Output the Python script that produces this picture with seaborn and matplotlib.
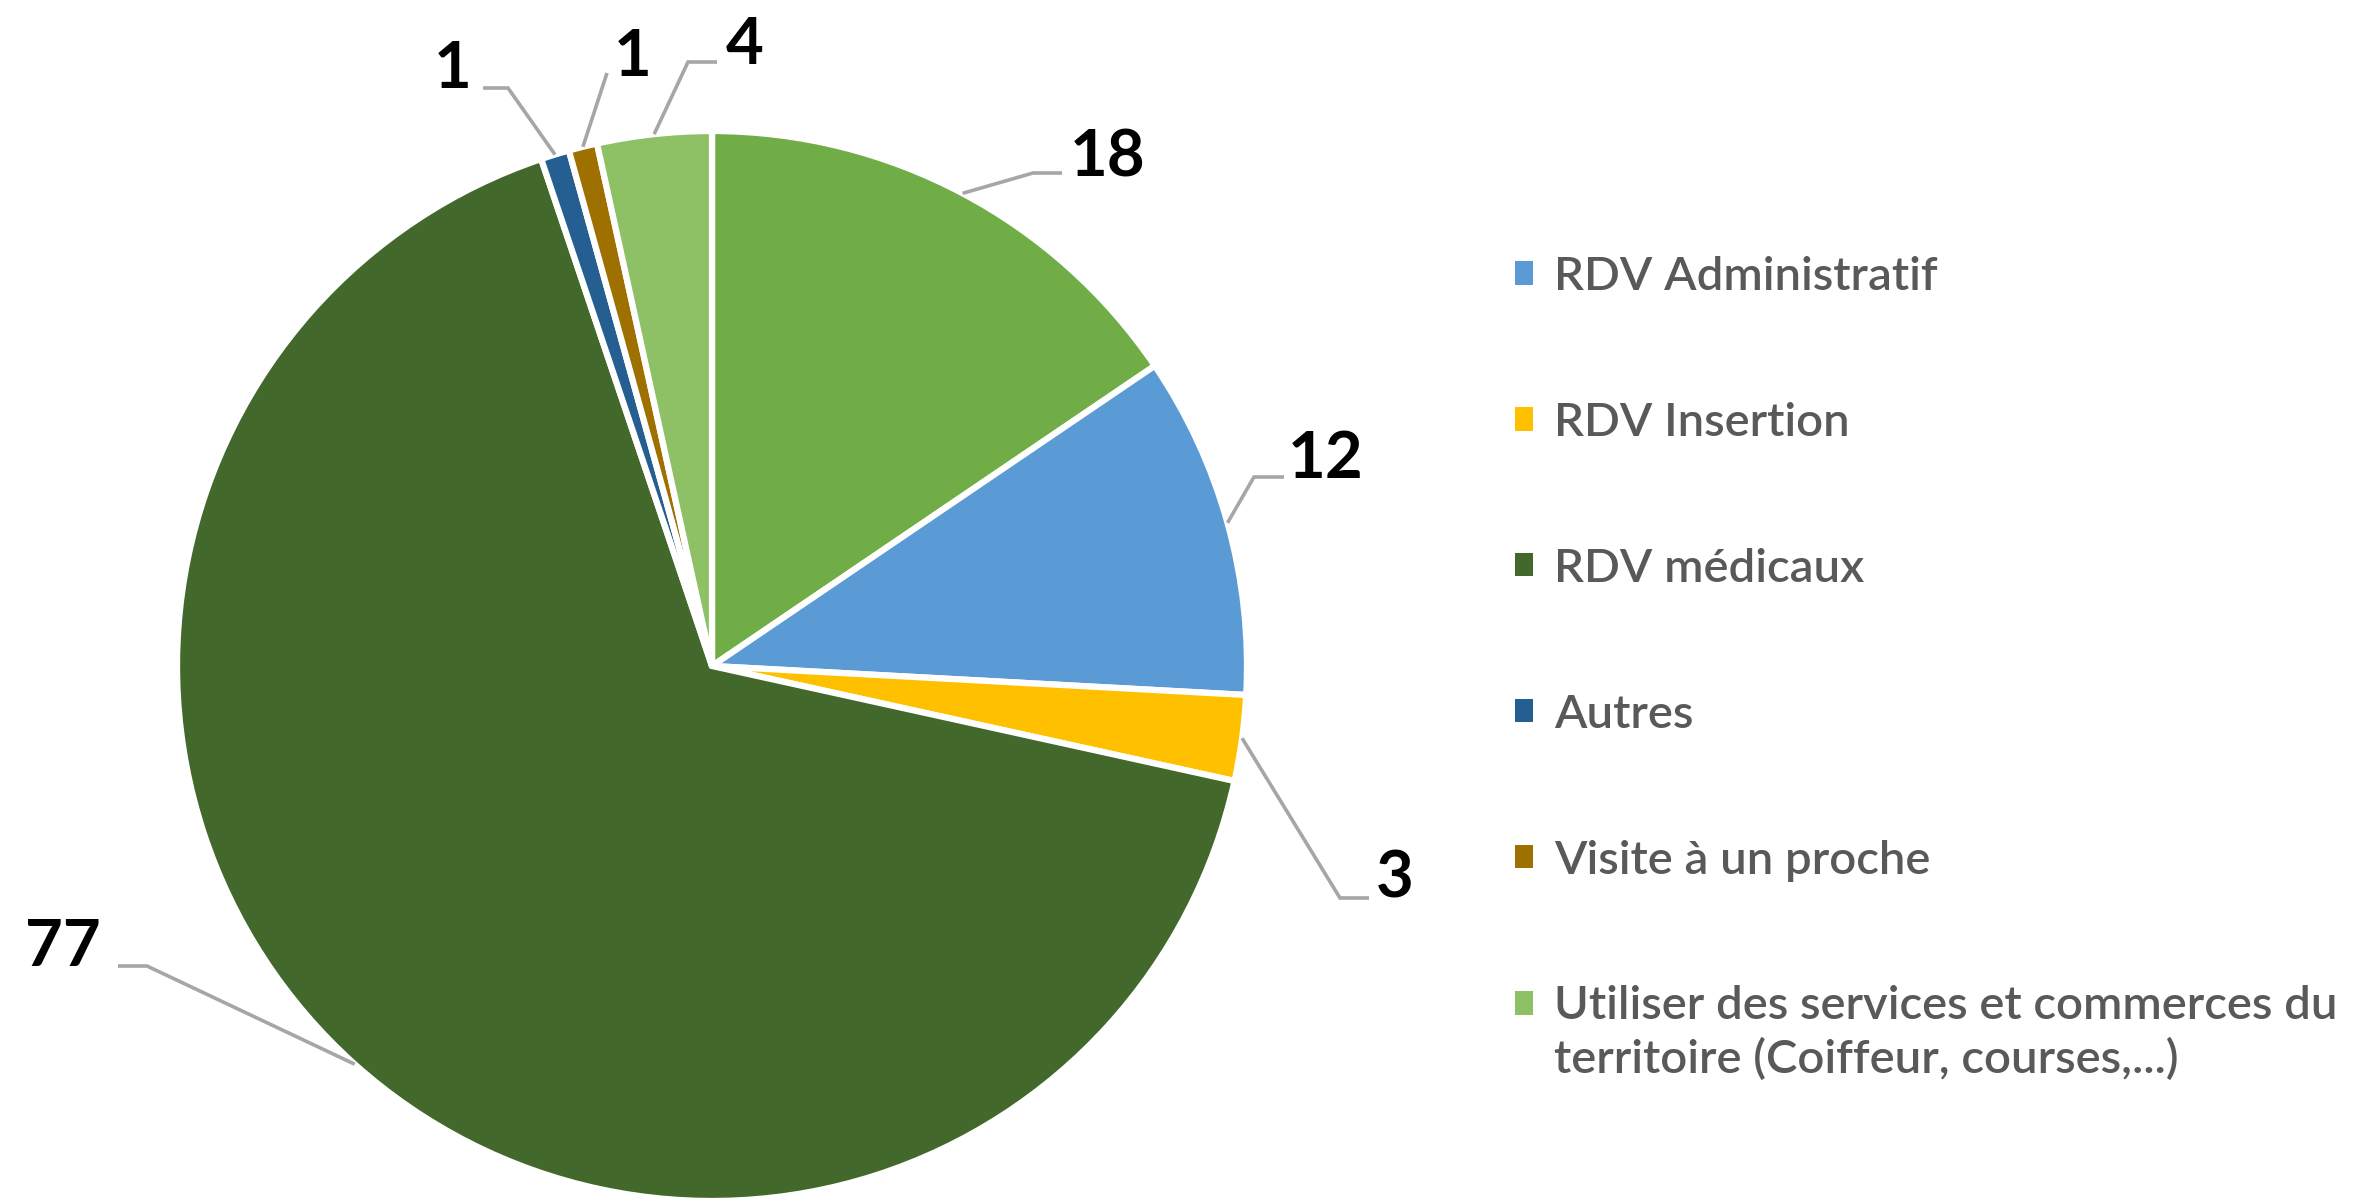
import matplotlib
matplotlib.use("Agg")
import matplotlib.pyplot as plt
from matplotlib.patches import Patch
import numpy as np
import seaborn as sns

# données (sens horaire depuis le haut)
categories = ["", "RDV Administratif", "RDV Insertion", "RDV médicaux", "Autres",
              "Visite à un proche",
              "Utiliser des services et commerces du\nterritoire (Coiffeur, courses,...)"]
valeurs = [18, 12, 3, 77, 1, 1, 4]
couleurs = ["#70AD47", "#5B9BD5", "#FFC000", "#43682B", "#255E91", "#9E7000", "#8EC065"]
dans_legende = [False, True, True, True, True, True, True]

sns.set_theme(style="white")
plt.rcParams['font.family'] = ['Lato', 'DejaVu Sans']

W, H = 2374, 1204
CX, CY, R = 712, 666, 535  # centre et rayon du camembert en pixels


def px(x, y):
    # pixels (origine en haut à gauche) -> unités du camembert
    return (x - CX) / R, (CY - y) / R


# position du texte, coude et fin du trait (en pixels)
etiquettes = [
    dict(texte=(1108, 158), coude=(1033, 173), fin=(1062, 173)),
    dict(texte=(1326, 460), coude=(1254, 477), fin=(1284, 477)),
    dict(texte=(1395, 879), coude=(1340, 898), fin=(1369, 898)),
    dict(texte=(63, 948), coude=(147, 966), fin=(118, 966)),
    dict(texte=(453, 70), coude=(508, 88), fin=(483, 88)),
    dict(texte=(633, 57), coude=(607, 73), fin=(607, 73)),
    dict(texte=(745, 45), coude=(688, 62), fin=(717, 62)),
]

fig = plt.figure(figsize=(W / 100, H / 100), dpi=100)
ax = fig.add_axes([0, 0, 1, 1])

ax.pie(valeurs, colors=couleurs, startangle=90, counterclock=False, radius=1,
       wedgeprops=dict(edgecolor="white", linewidth=4.5))
ax.set_aspect("auto")
ax.set_xlim(-CX / R, (W - CX) / R)
ax.set_ylim(-(H - CY) / R, CY / R)
ax.axis("off")

total = sum(valeurs)
cumul = np.cumsum([0] + valeurs)
for i, v in enumerate(valeurs):
    milieu = np.deg2rad((cumul[i] + v / 2) / total * 360)
    bord = (np.sin(milieu), np.cos(milieu))
    e = etiquettes[i]
    cx, cy = px(*e["coude"])
    fx, fy = px(*e["fin"])
    ax.plot([bord[0], cx, fx], [bord[1], cy, fy], color="#A6A6A6", lw=2.6,
            solid_capstyle="butt", solid_joinstyle="miter")
    tx, ty = px(*e["texte"])
    ax.text(tx, ty, str(v), ha="center", va="center", fontsize=47,
            fontweight="bold", color="black")

handles = [Patch(facecolor=c, edgecolor="none") for c, l in zip(couleurs, dans_legende) if l]
labels = [n for n, l in zip(categories, dans_legende) if l]
leg = ax.legend(handles, labels, loc="upper left", bbox_to_anchor=(1515 / W, 1 - 256 / H),
                bbox_transform=fig.transFigure, frameon=False,
                prop=dict(size=34, weight="semibold"),
                labelcolor="#595959", handlelength=0.38, handleheight=0.38,
                handletextpad=0.45, labelspacing=2.2, borderpad=0, borderaxespad=0)

# libellé sur deux lignes : interligne plus grand et carré aligné sur la 1re ligne
leg.get_texts()[-1].set_linespacing(1.3)
carre = leg.legend_handles[-1]
carre.set_y(carre.get_y() + 22)

fig.savefig("out.png", dpi=100, facecolor="white")
